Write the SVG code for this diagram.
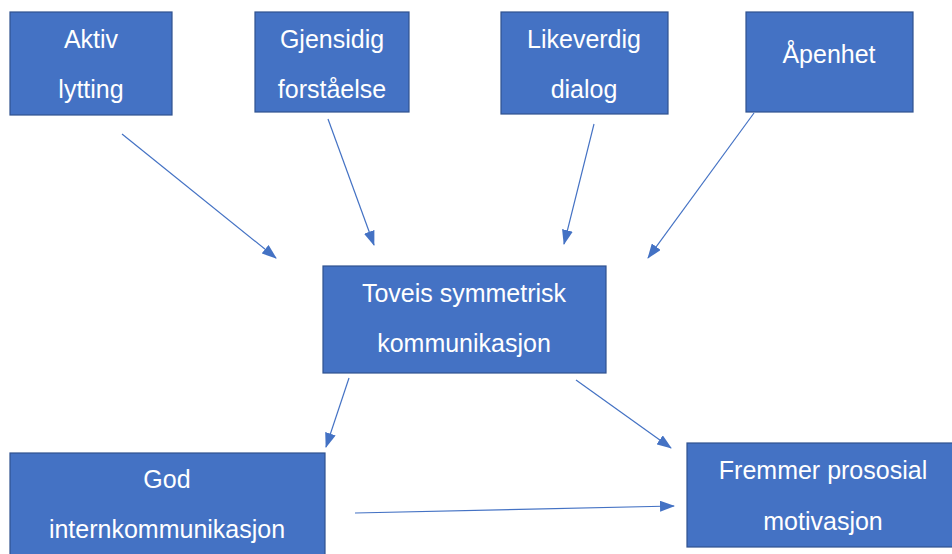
<svg xmlns="http://www.w3.org/2000/svg" width="952" height="554" viewBox="0 0 952 554">
<style>
.box{fill:#4472C4;stroke:#2F528F;stroke-width:1.2}
.t{font-family:"Liberation Sans",Arial,sans-serif;font-size:25px;fill:#ffffff;text-anchor:middle}
.c{stroke:#4472C4;stroke-width:1.2;fill:none;marker-end:url(#ah)}
</style>
<defs>
<marker id="ah" markerUnits="userSpaceOnUse" markerWidth="15" markerHeight="11" refX="14" refY="5.5" orient="auto">
<path d="M0,0 L15,5.5 L0,11 z" fill="#4472C4"/>
</marker>
</defs>
<rect width="952" height="554" fill="#ffffff"/>
<g id="connectors">
<line class="c" x1="122" y1="134" x2="276" y2="258"/>
<line class="c" x1="328" y1="119" x2="374" y2="245"/>
<line class="c" x1="594" y1="124" x2="564" y2="244"/>
<line class="c" x1="754" y1="113" x2="648" y2="258"/>
<line class="c" x1="349" y1="378" x2="326" y2="447"/>
<line class="c" x1="576" y1="380" x2="671" y2="448"/>
<line class="c" x1="355" y1="513" x2="674" y2="506"/>
</g>
<g id="aktiv">
<rect class="box" x="10" y="12" width="162" height="103"/>
<text class="t" x="91" y="48">Aktiv</text>
<text class="t" x="91" y="98">lytting</text>
</g>
<g id="gjensidig">
<rect class="box" x="255" y="12" width="154" height="100"/>
<text class="t" x="332" y="48">Gjensidig</text>
<text class="t" x="332" y="98">forståelse</text>
</g>
<g id="likeverdig">
<rect class="box" x="501" y="12" width="167" height="102"/>
<text class="t" x="584" y="48">Likeverdig</text>
<text class="t" x="584" y="98">dialog</text>
</g>
<g id="apenhet">
<rect class="box" x="746" y="12" width="167" height="100"/>
<text class="t" x="829" y="63">Åpenhet</text>
</g>
<g id="toveis">
<rect class="box" x="323" y="266" width="283" height="107"/>
<text class="t" x="464" y="302">Toveis symmetrisk</text>
<text class="t" x="464" y="352">kommunikasjon</text>
</g>
<g id="god">
<rect class="box" x="10" y="453" width="315" height="110"/>
<text class="t" x="167" y="488">God</text>
<text class="t" x="167" y="538">internkommunikasjon</text>
</g>
<g id="fremmer">
<rect class="box" x="687" y="443" width="270" height="104"/>
<text class="t" x="823" y="479">Fremmer prososial</text>
<text class="t" x="823" y="530">motivasjon</text>
</g>
</svg>
